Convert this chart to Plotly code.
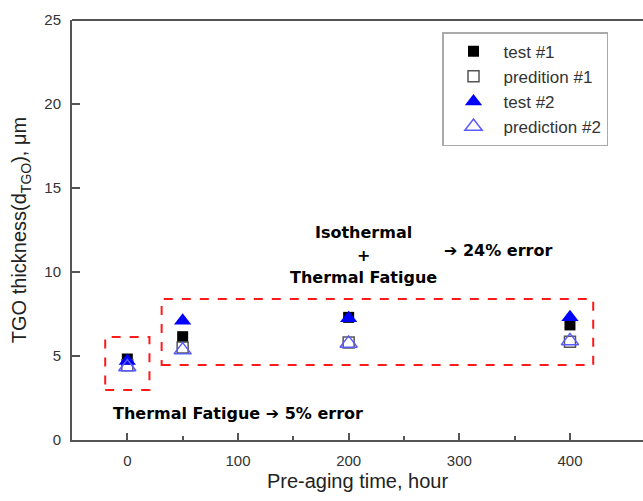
import plotly.graph_objects as go

hours = [0, 50, 200, 400]
test1 = [4.82, 6.15, 7.3, 6.85]
pred1 = [4.45, 5.5, 5.8, 5.85]
test2 = [4.7, 7.1, 7.25, 7.3]
pred2 = [4.35, 5.35, 5.75, 5.9]

fig = go.Figure()
fig.add_trace(go.Scatter(x=hours, y=test1, mode="markers", name="test #1",
                         marker=dict(symbol="square", size=11, color="black")))
fig.add_trace(go.Scatter(x=hours, y=pred1, mode="markers", name="predition #1",
                         marker=dict(symbol="square-open", size=11, color="#555555", line=dict(width=1.5))))
fig.add_trace(go.Scatter(x=hours, y=test2, mode="markers", name="test #2",
                         marker=dict(symbol="triangle-up", size=15, color="#0000ff")))
fig.add_trace(go.Scatter(x=hours, y=pred2, mode="markers", name="prediction #2",
                         marker=dict(symbol="triangle-up-open", size=15, color="#5a5aff", line=dict(width=1.5))))

red = dict(color="#ff1a1a", width=2, dash="dash")
fig.add_shape(type="rect", x0=-20, x1=20, y0=2.98, y1=6.13, line=red)
fig.add_shape(type="rect", x0=31, x1=421, y0=4.46, y1=8.39, line=red)
# top frame line
fig.add_shape(type="line", xref="paper", yref="paper", x0=0, x1=1, y0=1, y1=1,
              line=dict(color="#555555", width=2))

bfont = dict(family="DejaVu Sans", size=16, color="black")
ann = [
    dict(x=213.7, y=12.38, text="<b>Isothermal</b>", xanchor="center"),
    dict(x=213.7, y=11.0, text="<b>+</b>", xanchor="center"),
    dict(x=213.7, y=9.7, text="<b>Thermal Fatigue</b>", xanchor="center"),
    dict(x=284, y=11.3, text="<b>➔ 24% error</b>", xanchor="left"),
    dict(x=-14.5, y=1.6, text="<b>Thermal Fatigue ➔ 5% error</b>", xanchor="left"),
]
for a in ann:
    fig.add_annotation(xref="x", yref="y", showarrow=False, font=bfont, yanchor="middle", **a)

title_font = dict(family="Liberation Sans, Arial", size=20, color="#222222")
axis_common = dict(showline=True, linecolor="#555555", linewidth=2, showgrid=False, zeroline=False,
                   ticks="inside", tickcolor="#555555", tickwidth=1.5, ticklabelstandoff=6,
                   tickfont=dict(family="Liberation Sans, Arial", size=15, color="#333333"))
fig.update_xaxes(range=[-50, 466], tickvals=[0, 100, 200, 300, 400], ticklen=7,
                 minor=dict(tickvals=[50, 150, 250, 350], ticks="inside", ticklen=4, tickcolor="#555555"),
                 title=dict(text="Pre-aging time, hour", font=title_font, standoff=6),
                 **axis_common)
fig.update_yaxes(range=[0, 25], tickvals=[0, 5, 10, 15, 20, 25], ticklen=8,
                 title=dict(text="TGO thickness(d<sub>TGO</sub>), μm", font=title_font, standoff=12),
                 **axis_common)

fig.update_layout(
    width=643, height=501,
    margin=dict(l=72, r=0, t=20, b=61),
    plot_bgcolor="white", paper_bgcolor="white",
    legend=dict(x=0.648, y=0.971, xanchor="left", yanchor="top",
                bordercolor="#aaaaaa", borderwidth=1.5, bgcolor="white",
                font=dict(family="Liberation Sans, Arial", size=17, color="#333333"),
                itemwidth=50, tracegroupgap=0),
    showlegend=True,
)
fig.write_html("out.html")
